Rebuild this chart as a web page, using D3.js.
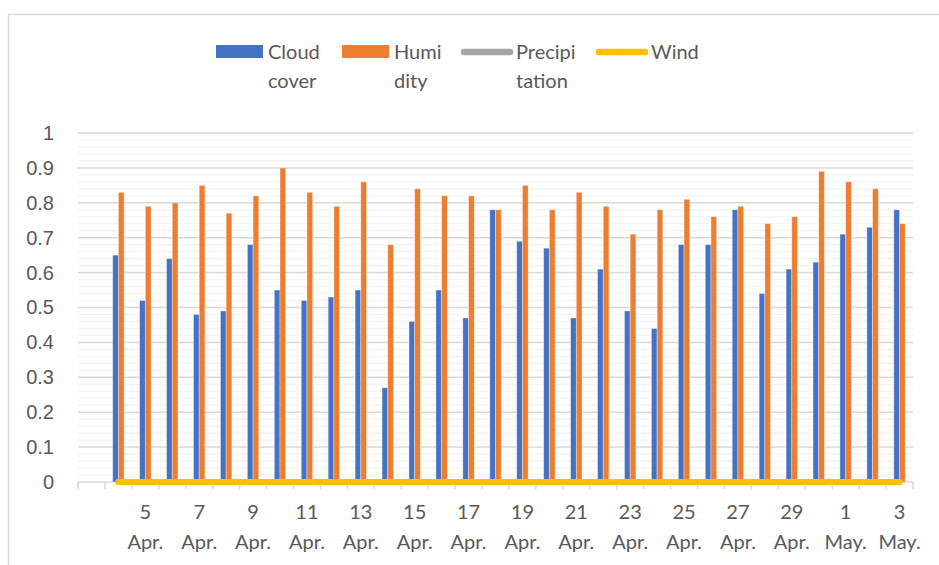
<!DOCTYPE html>
<html>
<head>
<meta charset="utf-8">
<script src="https://cdn.jsdelivr.net/npm/d3@7"></script>
<style>
	body { margin: 0; background: #fff; }
	svg { display: block; font-family: Lato, "Open Sans", sans-serif; }
	.tick-label { fill: #595959; font-size: 20px; }
</style>
</head>
<body>
<svg id="weather-plot" width="939" height="565" viewBox="0 0 939 565"></svg>
<script>

// first category is an empty row in the sheet
const dates = ["", "4 Apr.", "5 Apr.", "6 Apr.", "7 Apr.", "8 Apr.", "9 Apr.", "10 Apr.", "11 Apr.", "12 Apr.",
	"13 Apr.", "14 Apr.", "15 Apr.", "16 Apr.", "17 Apr.", "18 Apr.", "19 Apr.", "20 Apr.", "21 Apr.",
	"22 Apr.", "23 Apr.", "24 Apr.", "25 Apr.", "26 Apr.", "27 Apr.", "28 Apr.", "29 Apr.", "30 Apr.",
	"1 May.", "2 May.", "3 May."];

const cloud_cover = [null, 0.65, 0.52, 0.64, 0.48, 0.49, 0.68, 0.55, 0.52, 0.53, 0.55, 0.27, 0.46, 0.55, 0.47,
	0.78, 0.69, 0.67, 0.47, 0.61, 0.49, 0.44, 0.68, 0.68, 0.78, 0.54, 0.61, 0.63, 0.71, 0.73, 0.78];

const humidity = [null, 0.83, 0.79, 0.80, 0.85, 0.77, 0.82, 0.90, 0.83, 0.79, 0.86, 0.68, 0.84, 0.82, 0.82,
	0.78, 0.85, 0.78, 0.83, 0.79, 0.71, 0.78, 0.81, 0.76, 0.79, 0.74, 0.76, 0.89, 0.86, 0.84, 0.74];

const precipitation = [null, 0, 0, 0, 0, 0, 0, 0, 0, 0, 0, 0, 0, 0, 0,
	0, 0, 0, 0, 0, 0, 0, 0, 0, 0, 0, 0, 0, 0, 0, 0];

const wind = [null, 0, 0, 0, 0, 0, 0, 0, 0, 0, 0, 0, 0, 0, 0,
	0, 0, 0, 0, 0, 0, 0, 0, 0, 0, 0, 0, 0, 0, 0, 0];

const y_ticks = [0, 0.1, 0.2, 0.3, 0.4, 0.5, 0.6, 0.7, 0.8, 0.9, 1];
const y_minor_ticks = [0.02, 0.04, 0.06, 0.08, 0.12, 0.14, 0.16, 0.18, 0.22, 0.24, 0.26, 0.28,
	0.32, 0.34, 0.36, 0.38, 0.42, 0.44, 0.46, 0.48, 0.52, 0.54, 0.56, 0.58, 0.62, 0.64, 0.66, 0.68,
	0.72, 0.74, 0.76, 0.78, 0.82, 0.84, 0.86, 0.88, 0.92, 0.94, 0.96, 0.98];

const series_names = [["Cloud", "cover"], ["Humi", "dity"], ["Precipi", "tation"], ["Wind"]];
const series_colors = ["#4472C4", "#ED7D31", "#A5A5A5", "#FFC000"];

class BarPlot {

	constructor(svg_element_id) {
		this.svg = d3.select('#' + svg_element_id);

		const plot_left = 78, plot_right = 913, plot_top = 133, plot_bottom = 482;

		// chart frame, right and bottom edge are cut off in the picture
		this.svg.append("rect")
			.attr("x", 8.5).attr("y", 14.5)
			.attr("width", 1000).attr("height", 1000)
			.style("fill", "none")
			.style("stroke", "#D9D9D9")
			.style("stroke-width", "1.5px");

		const x = d3.scaleBand()
			.domain(dates.map((d, i) => i))
			.range([plot_left, plot_right]);

		const x_inner = d3.scaleBand()
			.domain([0, 1])
			.range([0, x.bandwidth()])
			.paddingOuter(1.36);

		const y = d3.scaleLinear()
			.domain([0, 1])
			.range([plot_bottom, plot_top]);

		// gridlines
		const grid = this.svg.append("g");
		grid.selectAll(".minor")
			.data(y_minor_ticks)
			.enter().append("line")
			.attr("x1", plot_left).attr("x2", plot_right)
			.attr("y1", d => y(d)).attr("y2", d => y(d))
			.style("stroke", "#F2F2F2")
			.style("stroke-width", "1.2px");
		grid.selectAll(".major")
			.data(y_ticks.filter(d => d > 0))
			.enter().append("line")
			.attr("x1", plot_left).attr("x2", plot_right)
			.attr("y1", d => y(d)).attr("y2", d => y(d))
			.style("stroke", "#D9D9D9")
			.style("stroke-width", "1.5px");

		// y axis numbers
		const y_axis = d3.axisLeft(y)
			.tickValues(y_ticks)
			.tickFormat(d3.format(""))
			.tickSize(0)
			.tickPadding(24);
		const y_g = this.svg.append("g")
			.attr("transform", "translate(" + plot_left + ",0)")
			.call(y_axis);
		y_g.select(".domain").remove();
		y_g.selectAll("text")
			.attr("class", "tick-label")
			.attr("font-family", null)
			.attr("font-size", null);

		// x axis line and ticks at category boundaries
		const x_g = this.svg.append("g");
		x_g.append("line")
			.attr("x1", plot_left).attr("x2", plot_right)
			.attr("y1", y(0)).attr("y2", y(0))
			.style("stroke", "#D9D9D9")
			.style("stroke-width", "1.5px");
		x_g.selectAll(".x-tick")
			.data(dates.map((d, i) => i).concat([dates.length]))
			.enter().append("line")
			.attr("x1", i => i < dates.length ? x(i) : plot_right)
			.attr("x2", i => i < dates.length ? x(i) : plot_right)
			.attr("y1", y(0)).attr("y2", y(0) + 7)
			.style("stroke", "#D9D9D9")
			.style("stroke-width", "1.5px");

		const labels = x_g.selectAll(".x-label")
			.data(dates.map((d, i) => [d, i]).filter(d => d[1] % 2 == 0 && d[0] != ""))
			.enter().append("text")
			.attr("class", "tick-label")
			.attr("text-anchor", "middle");
		labels.append("tspan")
			.attr("x", d => x(d[1]) + x.bandwidth() / 2)
			.attr("y", 519)
			.text(d => d[0].split(" ")[0]);
		labels.append("tspan")
			.attr("x", d => x(d[1]) + x.bandwidth() / 2)
			.attr("y", 549)
			.text(d => d[0].split(" ")[1]);

		// bars
		[cloud_cover, humidity].forEach((values, k) => {
			this.svg.append("g").selectAll("rect")
				.data(values.map((v, i) => [v, i]).filter(d => d[0] !== null))
				.enter().append("rect")
				.attr("x", d => x(d[1]) + x_inner(k))
				.attr("width", x_inner.bandwidth())
				.attr("y", d => y(d[0]))
				.attr("height", d => y(0) - y(d[0]))
				.style("fill", series_colors[k])
				.style("stroke", "rgba(255,255,255,0.45)")
				.style("stroke-width", "0.8px");
		});

		// lines, wind on top
		const line_generator = d3.line()
			.defined(d => d[0] !== null)
			.x(d => x(d[1]) + x.bandwidth() / 2)
			.y(d => y(d[0]));

		[precipitation, wind].forEach((values, k) => {
			this.svg.append("path")
				.datum(values.map((v, i) => [v, i]))
				.attr("d", line_generator)
				.style("fill", "none")
				.style("stroke", series_colors[k + 2])
				.style("stroke-width", "6px")
				.style("stroke-linecap", "round")
				.style("stroke-linejoin", "round");
		});

		this.makeLegend();
	}

	makeLegend() {
		const legend_x = [216, 342, 461, 596];
		const legend = this.svg.append("g");

		series_names.forEach((name, k) => {
			const item = legend.append("g")
				.attr("transform", "translate(" + legend_x[k] + ",0)");
			if (k < 2) {
				item.append("rect")
					.attr("x", 0).attr("y", 45)
					.attr("width", 47).attr("height", 13)
					.style("fill", series_colors[k]);
			} else {
				item.append("line")
					.attr("x1", 3).attr("x2", 49)
					.attr("y1", 52).attr("y2", 52)
					.style("stroke", series_colors[k])
					.style("stroke-width", "6.5px")
					.style("stroke-linecap", "round");
			}
			const text = item.append("text")
				.attr("class", "tick-label")
				.attr("x", k < 2 ? 52 : 55);
			name.forEach((part, j) => {
				text.append("tspan")
					.attr("x", k < 2 ? 52 : 55)
					.attr("y", 59 + j * 29)
					.text(part);
			});
		});
	}
}

function whenDocumentLoaded(action) {
	if (document.readyState === "loading") {
		document.addEventListener("DOMContentLoaded", action);
	} else {
		action();
	}
}

whenDocumentLoaded(() => {
	plot_object = new BarPlot('weather-plot');
});
</script>
</body>
</html>
